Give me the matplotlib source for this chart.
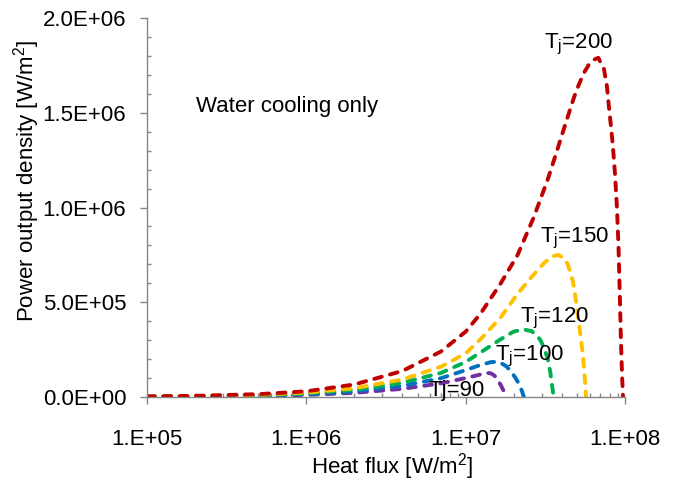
#!/usr/bin/env python
"""
Power output density vs heat flux for several junction temperatures
"""

import matplotlib.pyplot as plt
from matplotlib.ticker import FuncFormatter, LogLocator, MultipleLocator
import numpy as np

plt.rcParams["font.family"] = ["Liberation Sans", "DejaVu Sans"]
plt.rcParams["mathtext.default"] = "regular"

# heat flux [W/m2] and power output density [W/m2] for each junction temperature
q_90 = [1e5, 2e5, 5e5, 1e6, 2e6, 4e6, 7e6, 1e7, 1.19e7, 1.3e7, 1.37e7, 1.44e7,
        1.52e7, 1.59e7, 1.66e7, 1.73e7, 1.79e7, 1.84e7]
p_90 = [1.1e3, 2.2e3, 5.5e3, 1.1e4, 2.2e4, 4.3e4, 7.2e4, 1.0e5, 1.15e5, 1.24e5,
        1.27e5, 1.25e5, 1.12e5, 9.0e4, 6.3e4, 3.3e4, 1.3e4, 0]

q_100 = [1e5, 2e5, 5e5, 1e6, 2e6, 4e6, 7e6, 1e7, 1.24e7, 1.44e7, 1.55e7, 1.66e7,
         1.8e7, 1.92e7, 2.05e7, 2.15e7, 2.25e7, 2.32e7]
p_100 = [1.5e3, 3.0e3, 7.5e3, 1.5e4, 3.0e4, 5.9e4, 9.9e4, 1.42e5, 1.69e5, 1.84e5,
         1.86e5, 1.8e5, 1.62e5, 1.36e5, 1.02e5, 7.2e4, 3.4e4, 0]

q_120 = [1e5, 2e5, 5e5, 1e6, 2e6, 4e6, 7e6, 1e7, 1.24e7, 1.66e7, 2.0e7, 2.3e7,
         2.6e7, 2.84e7, 2.96e7, 3.1e7, 3.28e7, 3.4e7, 3.5e7, 3.57e7]
p_120 = [1.9e3, 3.8e3, 9.5e3, 1.9e4, 3.8e4, 7.5e4, 1.27e5, 1.85e5, 2.35e5, 3.05e5,
         3.45e5, 3.57e5, 3.47e5, 3.18e5, 2.97e5, 2.6e5, 2.0e5, 1.3e5, 5.0e4, 0]

q_150 = [1e5, 2e5, 5e5, 1e6, 2e6, 4e6, 7e6, 1e7, 1.24e7, 1.66e7, 2.12e7, 2.57e7,
         3.09e7, 3.45e7, 3.8e7, 4.1e7, 4.38e7, 4.71e7, 4.92e7, 5.14e7, 5.3e7,
         5.45e7, 5.58e7, 5.69e7]
p_150 = [2.3e3, 4.6e3, 1.15e4, 2.3e4, 4.6e4, 9.2e4, 1.6e5, 2.3e5, 3.05e5, 4.2e5,
         5.45e5, 6.3e5, 7.05e5, 7.4e5, 7.5e5, 7.35e5, 7.0e5, 6.1e5, 5.1e5, 3.9e5,
         3.0e5, 2.2e5, 1.1e5, 0]

q_200 = [1e5, 2e5, 5e5, 1e6, 2e6, 4e6, 7e6, 1e7, 1.24e7, 1.66e7, 2.12e7, 2.68e7,
         3.28e7, 3.68e7, 4.26e7, 4.78e7, 5.14e7, 5.52e7, 5.94e7, 6.38e7, 6.8e7,
         7.38e7, 7.7e7, 7.93e7, 8.16e7, 8.4e7, 8.65e7, 8.9e7, 9.1e7, 9.3e7,
         9.45e7, 9.6e7, 9.72e7]
p_200 = [3.0e3, 6.0e3, 1.5e4, 3.0e4, 6.6e4, 1.37e5, 2.4e5, 3.45e5, 4.4e5, 6.0e5,
         7.5e5, 9.5e5, 1.15e6, 1.28e6, 1.45e6, 1.58e6, 1.65e6, 1.71e6, 1.755e6,
         1.78e6, 1.79e6, 1.73e6, 1.64e6, 1.53e6, 1.43e6, 1.32e6, 1.18e6, 1.0e6,
         8.0e5, 5.0e5, 2.7e5, 1.0e5, 0]

series = [
    (q_90, p_90, "#7030A0"),
    (q_100, p_100, "#0070C0"),
    (q_120, p_120, "#00B050"),
    (q_150, p_150, "#FFC000"),
    (q_200, p_200, "#C00000"),
]

# curve labels: text, x, y (data coordinates, left/baseline)
labels = [
    ("Tj=90", 5.85e6, 5e3),
    ("T$_j$=100", 1.52e7, 1.95e5),
    ("T$_j$=120", 2.19e7, 3.96e5),
    ("T$_j$=150", 2.92e7, 8.18e5),
    ("T$_j$=200", 3.1e7, 1.842e6),
]

AXIS_GREY = "#868686"
FS = 16


def main():
    """
    Driver code
    """
    fig = plt.figure(figsize=(6.81, 4.83), dpi=100)
    ax = fig.add_axes([147 / 681, 1 - 397 / 483, 478 / 681, 379 / 483])

    for q, p, color in series:
        ax.plot(q, p, color=color, lw=2.8, ls=(0, (2.0, 2.2)),
                dash_capstyle="round", solid_capstyle="round")

    ax.set_xscale("log")
    ax.set_xlim(1e5, 1e8)
    ax.set_ylim(0, 2e6)

    ax.xaxis.set_major_locator(LogLocator(base=10, numticks=10))
    ax.xaxis.set_minor_locator(LogLocator(base=10, subs=np.arange(2, 10), numticks=20))
    ax.xaxis.set_major_formatter(
        FuncFormatter(lambda v, _: f"1.E+{int(round(np.log10(v))):02d}"))
    ax.yaxis.set_major_locator(MultipleLocator(5e5))
    ax.yaxis.set_minor_locator(MultipleLocator(1e5))
    ax.yaxis.set_major_formatter(FuncFormatter(lambda v, _: f"{v:.1E}"))

    for side in ("top", "right"):
        ax.spines[side].set_visible(False)
    for side in ("left", "bottom"):
        ax.spines[side].set_color(AXIS_GREY)
        ax.spines[side].set_linewidth(1.0)

    ax.tick_params(which="major", direction="out", length=5, width=1,
                   color=AXIS_GREY, labelsize=FS)
    ax.tick_params(which="minor", direction="in", length=3, width=1,
                   color=AXIS_GREY)
    ax.tick_params(axis="x", which="major", pad=18)
    ax.tick_params(axis="y", which="major", pad=10)

    for text, x, y in labels:
        ax.text(x, y, text, fontsize=FS, ha="left", va="baseline")

    ax.text(0.102, 0.752, "Water cooling only", fontsize=FS,
            transform=ax.transAxes, ha="left", va="baseline")

    fig.text(392 / 681, 1 - 467 / 483, "Heat flux [W/m$^2$]", fontsize=FS,
             ha="center", va="center")
    fig.text(27 / 681, 1 - 181 / 483, "Power output density [W/m$^2$]",
             fontsize=FS, rotation=90, ha="center", va="center")

    fig.savefig("out.png", dpi=100)


if __name__ == "__main__":
    main()
